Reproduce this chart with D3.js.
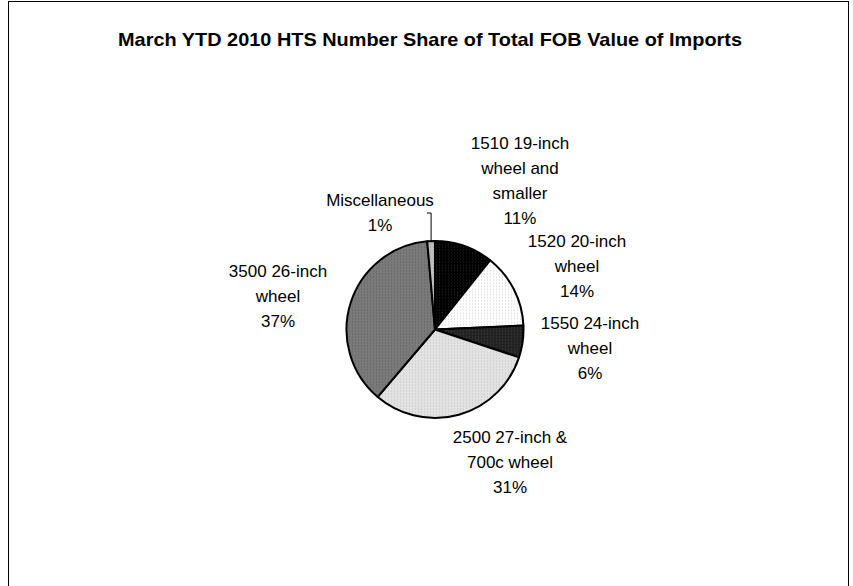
<!DOCTYPE html>
<html><head><meta charset="utf-8">
<script src="https://cdn.jsdelivr.net/npm/d3@7/dist/d3.min.js"></script>
<style>body{margin:0;background:#fff}svg{display:block}</style>
</head><body><svg id="c" width="853" height="586"></svg>
<script>
const categories = ["1510 19-inch wheel and smaller","1520 20-inch wheel","1550 24-inch wheel","2500 27-inch & 700c wheel","3500 26-inch wheel","Miscellaneous"];
const values = [10.7, 13.6, 5.8, 31.1, 37.4, 1.4];
const labelLines = [["1510 19-inch","wheel and","smaller"],["1520 20-inch","wheel"],["1550 24-inch","wheel"],["2500 27-inch &","700c wheel"],["3500 26-inch","wheel"],["Miscellaneous"]];
const title = "March YTD 2010 HTS Number Share of Total FOB Value of Imports";

// layout (not data)
const fills = [["#000","#2a2a2a"],["#fff","#d0d0d0"],["#222","#444"],["#e2e2e2","#c4c4c4"],["#7a7a7a","#5e5e5e"],["#c0c0c0","#9a9a9a"]];
const labelCenters = [[520,143],[577,241],[590,323],[510,437],[278,271],[380,200]];
const cx = 435, cy = 329.5, R = 88.5, lineH = 25;

const svg = d3.select("#c");
const defs = svg.append("defs");
fills.forEach((f,i)=>{
  const p = defs.append("pattern").attr("id","p"+i).attr("width",3).attr("height",3).attr("patternUnits","userSpaceOnUse");
  p.append("rect").attr("width",3).attr("height",3).attr("fill",f[0]);
  p.append("rect").attr("x",1).attr("y",1).attr("width",1).attr("height",1).attr("fill",f[1]);
});

svg.append("rect").attr("x",8.5).attr("y",1.5).attr("width",840).attr("height",620)
  .attr("fill","none").attr("stroke","#000").attr("stroke-width",1);

svg.append("text").attr("x",430).attr("y",46).attr("text-anchor","middle")
  .attr("font-family","Liberation Sans, Arial, sans-serif").attr("font-weight","bold")
  .attr("font-size",18.5).attr("textLength",624).attr("lengthAdjust","spacingAndGlyphs").text(title);

const total = d3.sum(values);
const pie = d3.pie().sort(null).value(d=>d)(values);
const arc = d3.arc().innerRadius(0).outerRadius(R);
const g = svg.append("g").attr("transform",`translate(${cx},${cy})`);
g.selectAll("path").data(pie).join("path")
  .attr("d",arc).attr("fill",(d,i)=>`url(#p${i})`)
  .attr("stroke","#000").attr("stroke-width",2).attr("stroke-linejoin","round");

// labels
const lg = svg.append("g").attr("font-family","Liberation Sans, Arial, sans-serif").attr("font-size",17).attr("fill","#000");
pie.forEach((d,i)=>{
  const lines = labelLines[i].concat([Math.round(values[i]/total*100)+"%"]);
  const [x,y] = labelCenters[i];
  lines.forEach((t,j)=>{
    lg.append("text").attr("x",x).attr("y",y + j*lineH).attr("dy","0.35em")
      .attr("text-anchor","middle").text(t);
  });
});

// leader line for Miscellaneous
const m = pie[5];
const ma = (m.startAngle+m.endAngle)/2;
const ex = cx + R*Math.sin(ma), ey = cy - R*Math.cos(ma);
svg.append("path").attr("d",`M${427},${213}H${ex}V${ey}`).attr("fill","none").attr("stroke","#000").attr("stroke-width",1);
</script></body></html>
